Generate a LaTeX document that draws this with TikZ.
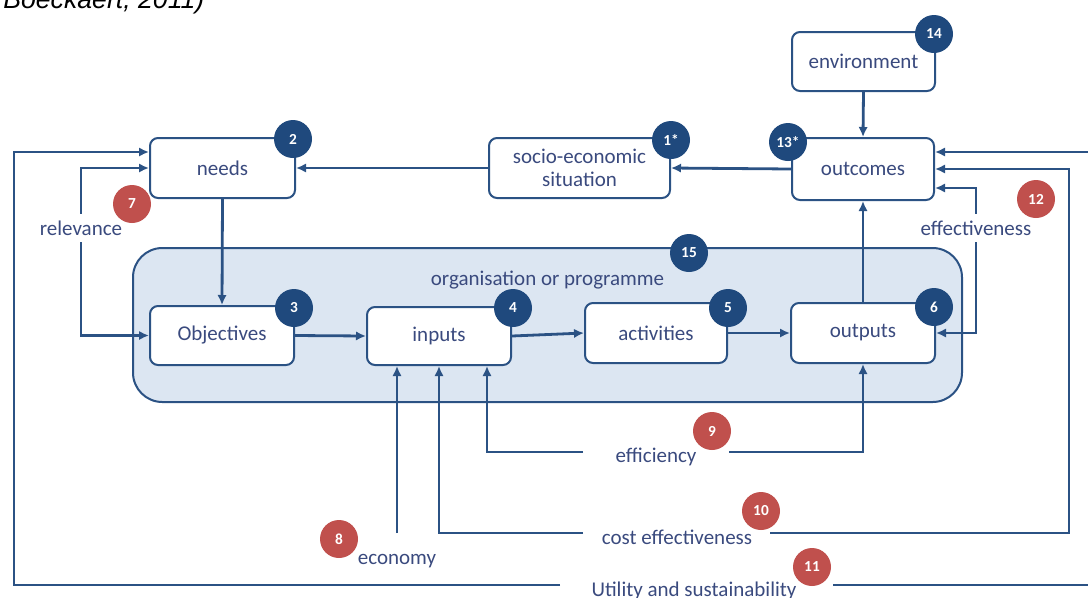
\documentclass[tikz,border=0pt]{standalone}
\usepackage{fontspec}
\setmainfont{Carlito}
\newfontfamily\arialfont{Liberation Sans}
\usetikzlibrary{arrows.meta}
\definecolor{linec}{HTML}{2B5284}
\definecolor{badgeb}{HTML}{1F497D}
\definecolor{badger}{HTML}{C0504D}
\definecolor{txtc}{HTML}{3A4A7E}
\definecolor{orgfill}{HTML}{DCE6F2}
\begin{document}
\begin{tikzpicture}[x=0.75pt,y=-0.75pt,
  box/.style={draw=linec, line width=1.5pt, rounded corners=6pt, fill=white, text=txtc,
    font=\fontsize{15.75}{17}\selectfont, align=center, inner sep=2pt},
  badge/.style={circle, fill=#1, text=white, font=\fontsize{11.5}{13}\selectfont\bfseries,
    minimum size=28.5pt, inner sep=0pt},
  badge/.default=badgeb,
  lbl/.style={text=txtc, font=\fontsize{15.75}{19}\selectfont, inner sep=2pt},
  wlbl/.style={lbl, fill=white, inner xsep=3pt, inner ysep=5pt},
  conn/.style={draw=linec, line width=2.1pt, -{Latex[length=7.5pt,width=7pt]}}]
\useasboundingbox (0,0) rectangle (1088,597);

% citation fragment (cut at the top edge, as in the reference)
\node[anchor=base west, inner sep=0pt, font=\arialfont\itshape\fontsize{20}{24}\selectfont] (cite) at (3,8) {Boeckaert, 2011)};

% container
\node[draw=linec, line width=1.5pt, fill=orgfill, rounded corners=22pt,
  minimum width=621.75pt, minimum height=115.5pt, inner sep=0pt] (org) at (547.5,325) {};
\node[lbl] (orglbl) at (547.5,280) {organisation or programme};

% boxes
\node[box, minimum width=108.75pt, minimum height=45pt] (needs) at (222.5,168) {needs};
\node[box, minimum width=135.75pt, minimum height=45pt] (socio) at (579.5,168) {socio-economic\\situation};
\node[box, minimum width=107.25pt, minimum height=44.25pt] (env) at (863.5,61.5) {environment};
\node[box, minimum width=106.5pt, minimum height=46.5pt] (outcomes) at (863,169) {outcomes};
\node[box, minimum width=108pt, minimum height=44.25pt] (objectives) at (222,335.5) {Objectives};
\node[box, minimum width=108pt, minimum height=43.5pt] (inputs) at (439,336) {inputs};
\node[box, minimum width=106.5pt, minimum height=45pt] (activities) at (656,333) {activities};
\node[box, minimum width=108pt, minimum height=45pt] (outputs) at (863,333) {outputs};

% labels
\node[wlbl] (rel) at (81,228) {relevance};
\node[wlbl] (effv) at (976,228) {effectiveness};
\node[lbl] (effc) at (656,457) {efficiency};
\node[lbl] (costeff) at (677,537) {cost effectiveness};
\node[lbl] (eco) at (397,561) {economy};
\node[lbl] (util) at (694,591) {Utility and sustainability};

% free line ends
\coordinate (effL) at (583,452);
\coordinate (effR) at (729,452);
\coordinate (effC) at (487,452);
\coordinate (ceL) at (583,533);
\coordinate (ceR) at (770,533);
\coordinate (ceC) at (1069,533);
\coordinate (ecoB) at (397,533);
\coordinate (utL) at (560,585);
\coordinate (utR) at (833,585);
\coordinate (ulc) at (14,152);
\coordinate (urc) at (1096,585);

% main flow
\draw[conn] (needs.south) -- (objectives.north);
\draw[conn] (objectives.east) -- (inputs.west);
\draw[conn] (inputs.east) -- (activities.west);
\draw[conn] (activities.east) -- (outputs.west);
\draw[conn] (outputs.north) -- (outcomes.south);
\draw[conn] (env.south) -- (outcomes.north);
\draw[conn] (outcomes.west) -- (socio.east);
\draw[conn] (socio.west) -- (needs.east);

% relevance
\draw[conn] (rel.north) |- (needs.west);
\draw[conn] (rel.south) |- (objectives.west);

% effectiveness
\draw[conn] (effv.north) |- ([yshift=-14.25pt]outcomes.east);
\draw[conn] (effv.south) |- (outputs.east);

% efficiency
\draw[conn] (effL) -- (effC) -- (inputs.south -| effC);
\draw[conn] (effR) -| (outputs.south);

% cost effectiveness
\draw[conn] (ceL) -| (inputs.south);
\draw[conn] (ceR) -- (ceC) |- (outcomes.east);

% economy
\draw[conn] (ecoB) -- (inputs.south -| ecoB);

% utility and sustainability
\draw[conn] (utL) -| (ulc) -- ([yshift=12pt]needs.west);
\draw[conn] (utR) -- (urc) |- ([yshift=12.75pt]outcomes.east);

% badges
\node[badge] (b2) at (293,139) {2};
\node[badge] (b1) at (671,140) {1*};
\node[badge] (b14) at (934,34) {14};
\node[badge] (b13) at (788,142) {13*};
\node[badge] (b15) at (689,253) {15};
\node[badge] (b3) at (294,308) {3};
\node[badge] (b4) at (513,308) {4};
\node[badge] (b5) at (728,308) {5};
\node[badge] (b6) at (934,307) {6};
\node[badge=badger] (b7) at (132,204) {7};
\node[badge=badger] (b8) at (339,539) {8};
\node[badge=badger] (b9) at (712,431) {9};
\node[badge=badger] (b10) at (761,511) {10};
\node[badge=badger] (b11) at (812,567) {11};
\node[badge=badger] (b12) at (1036,199) {12};
\end{tikzpicture}
\end{document}
